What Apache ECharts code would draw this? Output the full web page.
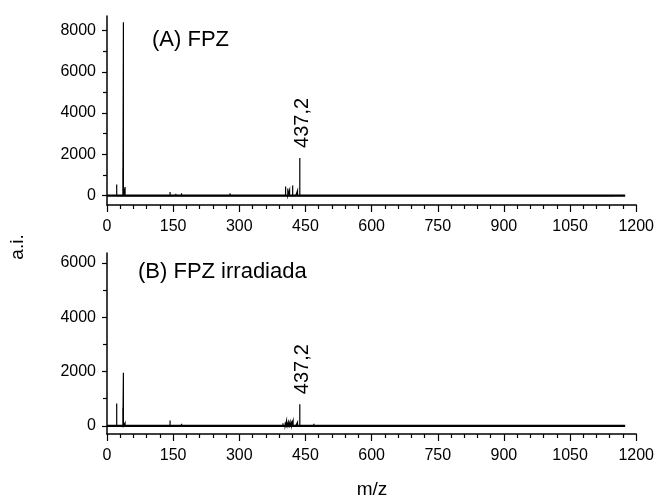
<!DOCTYPE html>
<html>
<head>
<meta charset="utf-8">
<script src="https://cdn.jsdelivr.net/npm/echarts@6/dist/echarts.min.js"></script>
<style>
  html, body { margin: 0; padding: 0; background: #fff; }
  #c { width: 657px; height: 501px; }
</style>
</head>
<body>
<div id="c"></div>
<script>
// Mass spectrum (A): FPZ — peak positions (m/z) and intensities (a.i.)
const mzA = [22, 36, 37.2, 41, 57, 77, 100, 112, 128, 143, 156, 169, 185, 230, 279, 315, 345, 369, 385, 396,
             405, 410, 414, 421, 428, 432, 437.2, 445, 452, 470, 500, 560, 640, 730, 820, 910, 990, 1080, 1150];
const intA = [540, 1300, 8400, 420, 40, 50, 80, 70, 40, 180, 100, 120, 40, 30, 120, 30, 40, 70, 40, 50,
              450, 350, 280, 500, 60, 250, 1830, 60, 40, 30, 20, 20, 20, 20, 20, 20, 20, 20, 20];

// Mass spectrum (B): FPZ irradiada
const mzB = [22, 36, 37.2, 41, 60, 100, 143, 169, 200, 250, 279, 316, 340, 358, 375, 385, 392, 399, 404, 407,
             411, 415, 419, 422, 428, 432, 437.2, 445, 452, 469, 520, 600, 700];
const intB = [820, 650, 1960, 110, 30, 30, 200, 80, 30, 40, 40, 50, 40, 50, 40, 60, 60, 100, 120, 190,
              150, 160, 140, 180, 60, 130, 800, 60, 40, 80, 20, 20, 20];

// Acquired m/z span (baseline trace)
const baseSpan = [0, 1175];

// Annotated peak
const labelledPeak = 437.2;

// Axis ticks
const xTicks = [0, 150, 300, 450, 600, 750, 900, 1050, 1200];
const yMajorA = [0, 2000, 4000, 6000, 8000];
const yMinorA = [1000, 3000, 5000, 7000];
const yMajorB = [0, 2000, 4000, 6000];
const yMinorB = [1000, 3000, 5000];

const FONT = 'Liberation Sans, Arial, Helvetica, sans-serif';
const plain = (v) => String(v);

function sticks(mz, inten) {
  const out = [];
  mz.forEach((m, i) => { out.push([m, 0], [m, inten[i]], [m, 0]); });
  return out;
}
function peakOf(mz, inten, m) {
  return [m, inten[mz.indexOf(m)]];
}

const xAxisBase = (grid) => ({
  type: 'value', gridIndex: grid,
  min: xTicks[0], max: xTicks[xTicks.length - 1], interval: xTicks[1] - xTicks[0],
  axisLine: { onZero: false, lineStyle: { color: '#000', width: 1.5 } },
  axisTick: { length: 7, lineStyle: { color: '#000', width: 1.2 } },
  minorTick: { show: true, splitNumber: 5, length: 4, lineStyle: { color: '#000', width: 1.2 } },
  axisLabel: { color: '#000', fontSize: 16, fontFamily: FONT, margin: 14, formatter: plain },
  splitLine: { show: false }, minorSplitLine: { show: false }
});

const yAxisMajor = (grid, min, max, vals) => ({
  type: 'value', gridIndex: grid, min: min, max: max, position: 'left',
  axisLine: { show: true, onZero: false, lineStyle: { color: '#000', width: 1.5 } },
  axisTick: { show: true, customValues: vals, length: 5, lineStyle: { color: '#000', width: 1.2 } },
  axisLabel: { customValues: vals, color: '#000', fontSize: 16, fontFamily: FONT, margin: 11, formatter: plain },
  splitLine: { show: false }
});
const yAxisMinor = (grid, min, max, vals) => ({
  type: 'value', gridIndex: grid, min: min, max: max, position: 'left', offset: 0,
  axisLine: { show: false, onZero: false },
  axisTick: { show: true, customValues: vals, length: 4, lineStyle: { color: '#000', width: 1.2 } },
  axisLabel: { show: false },
  splitLine: { show: false }
});

const peakLabel = (distance) => ({
  show: true, position: 'top', distance: distance, rotate: 90,
  align: 'left', verticalAlign: 'middle', offset: [0, 3],
  color: '#000', fontSize: 20, fontFamily: FONT,
  formatter: (p) => String(p.value[0]).replace('.', ',')
});

const option = {
  animation: false,
  backgroundColor: '#fff',
  grid: [
    { left: 107, right: 20, top: 16, height: 189 },
    { left: 107, right: 20, top: 253, height: 181 }
  ],
  title: [
    { text: '(A) FPZ', left: 147, top: 24, textStyle: { fontSize: 22, fontWeight: 'normal', color: '#000', fontFamily: FONT } },
    { text: '(B) FPZ irradiada', left: 133, top: 256, textStyle: { fontSize: 22, fontWeight: 'normal', color: '#000', fontFamily: FONT } }
  ],
  graphic: [
    { type: 'text', x: 18, y: 247, rotation: Math.PI / 2,
      style: { text: 'a.i.', fill: '#000', font: '19px ' + FONT, textAlign: 'center', textVerticalAlign: 'middle' } },
    { type: 'text', x: 372, y: 490,
      style: { text: 'm/z', fill: '#000', font: '19px ' + FONT, textAlign: 'center', textVerticalAlign: 'middle' } }
  ],
  xAxis: [xAxisBase(0), xAxisBase(1)],
  yAxis: [
    yAxisMajor(0, -450, 8700, yMajorA),
    yAxisMinor(0, -450, 8700, yMinorA),
    yAxisMajor(1, -300, 6370, yMajorB),
    yAxisMinor(1, -300, 6370, yMinorB)
  ],
  series: [
    { type: 'line', xAxisIndex: 0, yAxisIndex: 0, data: baseSpan.map(m => [m, 0]), showSymbol: false, silent: true,
      lineStyle: { color: '#000', width: 2.2 } },
    { type: 'line', xAxisIndex: 0, yAxisIndex: 0, data: sticks(mzA, intA), showSymbol: false, silent: true,
      lineStyle: { color: '#000', width: 1.2, join: 'miter' } },
    { type: 'scatter', xAxisIndex: 0, yAxisIndex: 0, data: [peakOf(mzA, intA, labelledPeak)], symbolSize: 0, silent: true,
      itemStyle: { opacity: 1, color: '#000' }, label: peakLabel(10) },
    { type: 'line', xAxisIndex: 1, yAxisIndex: 2, data: baseSpan.map(m => [m, 0]), showSymbol: false, silent: true,
      lineStyle: { color: '#000', width: 2.2 } },
    { type: 'line', xAxisIndex: 1, yAxisIndex: 2, data: sticks(mzB, intB), showSymbol: false, silent: true,
      lineStyle: { color: '#000', width: 1.2, join: 'miter' } },
    { type: 'scatter', xAxisIndex: 1, yAxisIndex: 2, data: [peakOf(mzB, intB, labelledPeak)], symbolSize: 0, silent: true,
      itemStyle: { opacity: 1, color: '#000' }, label: peakLabel(10) }
  ]
};

const chart = echarts.init(document.getElementById('c'), null, { renderer: 'canvas' });
chart.setOption(option);
</script>
</body>
</html>
